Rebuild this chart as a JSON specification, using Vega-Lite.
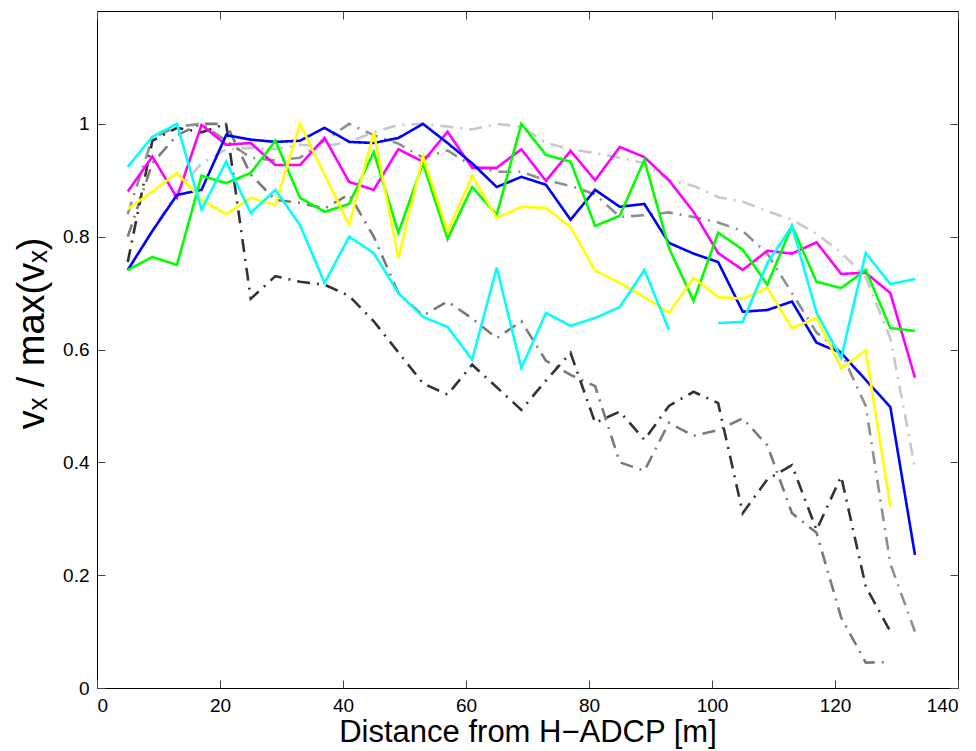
{
"$schema": "https://vega.github.io/schema/vega-lite/v6.json",
"width": 861, "height": 677,
"autosize": {"type": "none"},
"padding": {"left": 97, "top": 11, "right": 18, "bottom": 63},
"background": "white",
"config": {
  "view": {"stroke": "black", "strokeWidth": 1},
  "font": "Liberation Sans",
  "axis": {"grid": false, "domain": false, "tickColor": "#444", "tickWidth": 1, "labelColor": "black", "titleColor": "black", "labelFont": "Liberation Sans", "titleFont": "Liberation Sans, DejaVu Sans", "labelFontSize": 19, "titleFontWeight": "normal"}
},
"data": {"values": [
{"s":"light","x":5,"y":0.74},{"s":"light","x":9,"y":0.81},{"s":"light","x":13,"y":0.88},{"s":"light","x":17,"y":0.93},{"s":"light","x":21,"y":0.955},{"s":"light","x":25,"y":0.957},{"s":"light","x":29,"y":0.955},{"s":"light","x":33,"y":0.963},{"s":"light","x":37,"y":0.96},{"s":"light","x":41,"y":0.968},{"s":"light","x":45,"y":0.985},{"s":"light","x":49,"y":0.998},{"s":"light","x":53,"y":1.0},{"s":"light","x":57,"y":0.995},{"s":"light","x":61,"y":0.99},{"s":"light","x":65,"y":1.0},{"s":"light","x":69,"y":0.995},{"s":"light","x":73,"y":0.966},{"s":"light","x":77,"y":0.955},{"s":"light","x":81,"y":0.948},{"s":"light","x":85,"y":0.94},{"s":"light","x":89,"y":0.93},{"s":"light","x":93,"y":0.9},{"s":"light","x":97,"y":0.89},{"s":"light","x":101,"y":0.87},{"s":"light","x":105,"y":0.862},{"s":"light","x":109,"y":0.845},{"s":"light","x":113,"y":0.83},{"s":"light","x":117,"y":0.805},{"s":"light","x":121,"y":0.772},{"s":"light","x":125,"y":0.728},{"s":"light","x":129,"y":0.62},{"s":"light","x":133,"y":0.39},
{"s":"g2","x":5,"y":0.84},{"s":"g2","x":9,"y":0.975},{"s":"g2","x":13,"y":0.995},{"s":"g2","x":17,"y":1.0},{"s":"g2","x":21,"y":0.97},{"s":"g2","x":25,"y":0.94},{"s":"g2","x":29,"y":0.935},{"s":"g2","x":33,"y":0.94},{"s":"g2","x":37,"y":0.97},{"s":"g2","x":41,"y":1.0},{"s":"g2","x":45,"y":0.98},{"s":"g2","x":49,"y":0.965},{"s":"g2","x":53,"y":0.94},{"s":"g2","x":57,"y":0.953},{"s":"g2","x":61,"y":0.925},{"s":"g2","x":65,"y":0.915},{"s":"g2","x":69,"y":0.915},{"s":"g2","x":73,"y":0.9},{"s":"g2","x":77,"y":0.89},{"s":"g2","x":81,"y":0.875},{"s":"g2","x":85,"y":0.835},{"s":"g2","x":89,"y":0.838},{"s":"g2","x":93,"y":0.843},{"s":"g2","x":97,"y":0.835},{"s":"g2","x":101,"y":0.825},{"s":"g2","x":105,"y":0.81},{"s":"g2","x":109,"y":0.77},{"s":"g2","x":113,"y":0.7},{"s":"g2","x":117,"y":0.63},{"s":"g2","x":121,"y":0.595},{"s":"g2","x":125,"y":0.5},{"s":"g2","x":129,"y":0.22},{"s":"g2","x":133,"y":0.1},
{"s":"g3","x":5,"y":0.8},{"s":"g3","x":9,"y":0.93},{"s":"g3","x":13,"y":0.98},{"s":"g3","x":17,"y":1.0},{"s":"g3","x":21,"y":1.0},{"s":"g3","x":25,"y":0.91},{"s":"g3","x":29,"y":0.865},{"s":"g3","x":33,"y":0.86},{"s":"g3","x":37,"y":0.85},{"s":"g3","x":41,"y":0.875},{"s":"g3","x":45,"y":0.8},{"s":"g3","x":49,"y":0.7},{"s":"g3","x":53,"y":0.66},{"s":"g3","x":57,"y":0.685},{"s":"g3","x":61,"y":0.655},{"s":"g3","x":65,"y":0.62},{"s":"g3","x":69,"y":0.65},{"s":"g3","x":73,"y":0.58},{"s":"g3","x":77,"y":0.555},{"s":"g3","x":81,"y":0.535},{"s":"g3","x":85,"y":0.4},{"s":"g3","x":89,"y":0.385},{"s":"g3","x":93,"y":0.47},{"s":"g3","x":97,"y":0.447},{"s":"g3","x":101,"y":0.457},{"s":"g3","x":105,"y":0.478},{"s":"g3","x":109,"y":0.43},{"s":"g3","x":113,"y":0.31},{"s":"g3","x":117,"y":0.275},{"s":"g3","x":121,"y":0.125},{"s":"g3","x":125,"y":0.045},{"s":"g3","x":129,"y":0.046},
{"s":"dark","x":5,"y":0.755},{"s":"dark","x":9,"y":0.97},{"s":"dark","x":13,"y":0.993},{"s":"dark","x":17,"y":0.985},{"s":"dark","x":21,"y":1.0},{"s":"dark","x":25,"y":0.69},{"s":"dark","x":29,"y":0.73},{"s":"dark","x":33,"y":0.72},{"s":"dark","x":37,"y":0.715},{"s":"dark","x":41,"y":0.695},{"s":"dark","x":45,"y":0.65},{"s":"dark","x":49,"y":0.595},{"s":"dark","x":53,"y":0.54},{"s":"dark","x":57,"y":0.52},{"s":"dark","x":61,"y":0.573},{"s":"dark","x":65,"y":0.533},{"s":"dark","x":69,"y":0.493},{"s":"dark","x":73,"y":0.545},{"s":"dark","x":77,"y":0.594},{"s":"dark","x":81,"y":0.47},{"s":"dark","x":85,"y":0.49},{"s":"dark","x":89,"y":0.44},{"s":"dark","x":93,"y":0.5},{"s":"dark","x":97,"y":0.525},{"s":"dark","x":101,"y":0.505},{"s":"dark","x":105,"y":0.31},{"s":"dark","x":109,"y":0.37},{"s":"dark","x":113,"y":0.395},{"s":"dark","x":117,"y":0.28},{"s":"dark","x":121,"y":0.375},{"s":"dark","x":125,"y":0.18},{"s":"dark","x":129,"y":0.1},
{"s":"magenta","x":5,"y":0.88},{"s":"magenta","x":9,"y":0.942},{"s":"magenta","x":13,"y":0.869},{"s":"magenta","x":17,"y":0.998},{"s":"magenta","x":21,"y":0.963},{"s":"magenta","x":25,"y":0.966},{"s":"magenta","x":29,"y":0.927},{"s":"magenta","x":33,"y":0.927},{"s":"magenta","x":37,"y":0.975},{"s":"magenta","x":41,"y":0.897},{"s":"magenta","x":45,"y":0.883},{"s":"magenta","x":49,"y":0.955},{"s":"magenta","x":53,"y":0.933},{"s":"magenta","x":57,"y":0.986},{"s":"magenta","x":61,"y":0.922},{"s":"magenta","x":65,"y":0.922},{"s":"magenta","x":69,"y":0.955},{"s":"magenta","x":73,"y":0.899},{"s":"magenta","x":77,"y":0.952},{"s":"magenta","x":81,"y":0.9},{"s":"magenta","x":85,"y":0.959},{"s":"magenta","x":89,"y":0.941},{"s":"magenta","x":93,"y":0.9},{"s":"magenta","x":97,"y":0.844},{"s":"magenta","x":101,"y":0.771},{"s":"magenta","x":105,"y":0.741},{"s":"magenta","x":109,"y":0.775},{"s":"magenta","x":113,"y":0.77},{"s":"magenta","x":117,"y":0.79},{"s":"magenta","x":121,"y":0.734},{"s":"magenta","x":125,"y":0.736},{"s":"magenta","x":129,"y":0.7},{"s":"magenta","x":133,"y":0.55},
{"s":"blue","x":5,"y":0.741},{"s":"blue","x":9,"y":0.81},{"s":"blue","x":13,"y":0.874},{"s":"blue","x":17,"y":0.883},{"s":"blue","x":21,"y":0.98},{"s":"blue","x":25,"y":0.972},{"s":"blue","x":29,"y":0.968},{"s":"blue","x":33,"y":0.97},{"s":"blue","x":37,"y":0.993},{"s":"blue","x":41,"y":0.968},{"s":"blue","x":45,"y":0.966},{"s":"blue","x":49,"y":0.975},{"s":"blue","x":53,"y":1.0},{"s":"blue","x":57,"y":0.966},{"s":"blue","x":61,"y":0.93},{"s":"blue","x":65,"y":0.888},{"s":"blue","x":69,"y":0.906},{"s":"blue","x":73,"y":0.892},{"s":"blue","x":77,"y":0.83},{"s":"blue","x":81,"y":0.883},{"s":"blue","x":85,"y":0.853},{"s":"blue","x":89,"y":0.858},{"s":"blue","x":93,"y":0.789},{"s":"blue","x":97,"y":0.77},{"s":"blue","x":101,"y":0.755},{"s":"blue","x":105,"y":0.667},{"s":"blue","x":109,"y":0.67},{"s":"blue","x":113,"y":0.685},{"s":"blue","x":117,"y":0.612},{"s":"blue","x":121,"y":0.594},{"s":"blue","x":125,"y":0.546},{"s":"blue","x":129,"y":0.498},{"s":"blue","x":133,"y":0.236},
{"s":"green","x":5,"y":0.741},{"s":"green","x":9,"y":0.764},{"s":"green","x":13,"y":0.75},{"s":"green","x":17,"y":0.908},{"s":"green","x":21,"y":0.895},{"s":"green","x":25,"y":0.913},{"s":"green","x":29,"y":0.97},{"s":"green","x":33,"y":0.869},{"s":"green","x":37,"y":0.844},{"s":"green","x":41,"y":0.858},{"s":"green","x":45,"y":0.95},{"s":"green","x":49,"y":0.807},{"s":"green","x":53,"y":0.93},{"s":"green","x":57,"y":0.796},{"s":"green","x":61,"y":0.888},{"s":"green","x":65,"y":0.839},{"s":"green","x":69,"y":1.0},{"s":"green","x":73,"y":0.945},{"s":"green","x":77,"y":0.933},{"s":"green","x":81,"y":0.819},{"s":"green","x":85,"y":0.837},{"s":"green","x":89,"y":0.936},{"s":"green","x":93,"y":0.78},{"s":"green","x":97,"y":0.686},{"s":"green","x":101,"y":0.807},{"s":"green","x":105,"y":0.777},{"s":"green","x":109,"y":0.715},{"s":"green","x":113,"y":0.819},{"s":"green","x":117,"y":0.72},{"s":"green","x":121,"y":0.709},{"s":"green","x":125,"y":0.741},{"s":"green","x":129,"y":0.638},{"s":"green","x":133,"y":0.633},
{"s":"yellow","x":5,"y":0.849},{"s":"yellow","x":9,"y":0.88},{"s":"yellow","x":13,"y":0.913},{"s":"yellow","x":17,"y":0.865},{"s":"yellow","x":21,"y":0.84},{"s":"yellow","x":25,"y":0.869},{"s":"yellow","x":29,"y":0.856},{"s":"yellow","x":33,"y":1.0},{"s":"yellow","x":37,"y":0.91},{"s":"yellow","x":41,"y":0.821},{"s":"yellow","x":45,"y":0.984},{"s":"yellow","x":49,"y":0.762},{"s":"yellow","x":53,"y":0.942},{"s":"yellow","x":57,"y":0.809},{"s":"yellow","x":61,"y":0.908},{"s":"yellow","x":65,"y":0.833},{"s":"yellow","x":69,"y":0.853},{"s":"yellow","x":73,"y":0.851},{"s":"yellow","x":77,"y":0.817},{"s":"yellow","x":81,"y":0.74},{"s":"yellow","x":85,"y":0.718},{"s":"yellow","x":89,"y":0.693},{"s":"yellow","x":93,"y":0.665},{"s":"yellow","x":97,"y":0.727},{"s":"yellow","x":101,"y":0.693},{"s":"yellow","x":105,"y":0.69},{"s":"yellow","x":109,"y":0.709},{"s":"yellow","x":113,"y":0.638},{"s":"yellow","x":117,"y":0.656},{"s":"yellow","x":121,"y":0.567},{"s":"yellow","x":125,"y":0.598},{"s":"yellow","x":129,"y":0.321},
{"s":"cyan","x":5,"y":0.924},{"s":"cyan","x":9,"y":0.977},{"s":"cyan","x":13,"y":1.0},{"s":"cyan","x":17,"y":0.848},{"s":"cyan","x":21,"y":0.933},{"s":"cyan","x":25,"y":0.842},{"s":"cyan","x":29,"y":0.883},{"s":"cyan","x":33,"y":0.821},{"s":"cyan","x":37,"y":0.718},{"s":"cyan","x":41,"y":0.8},{"s":"cyan","x":45,"y":0.771},{"s":"cyan","x":49,"y":0.7},{"s":"cyan","x":53,"y":0.658},{"s":"cyan","x":57,"y":0.64},{"s":"cyan","x":61,"y":0.582},{"s":"cyan","x":65,"y":0.745},{"s":"cyan","x":69,"y":0.567},{"s":"cyan","x":73,"y":0.665},{"s":"cyan","x":77,"y":0.642},{"s":"cyan","x":81,"y":0.656},{"s":"cyan","x":85,"y":0.675},{"s":"cyan","x":89,"y":0.741},{"s":"cyan","x":93,"y":0.635},{"s":"cyan","x":97,"y":null},{"s":"cyan","x":101,"y":0.647},{"s":"cyan","x":105,"y":0.649},{"s":"cyan","x":109,"y":0.753},{"s":"cyan","x":113,"y":0.819},{"s":"cyan","x":117,"y":0.665},{"s":"cyan","x":121,"y":0.585},{"s":"cyan","x":125,"y":0.771},{"s":"cyan","x":129,"y":0.716},{"s":"cyan","x":133,"y":0.725}
]},
"layer": [
 {
  "mark": {"type": "line", "strokeWidth": 2.6, "invalid": "break-paths-filter-domains", "clip": true},
  "encoding": {
   "x": {"field": "x", "type": "quantitative", "scale": {"domain": [0, 140], "nice": false, "zero": false},
         "axis": {"orient": "bottom", "values": [0,20,40,60,80,100,120,140], "tickSize": -8, "labelPadding": 16, "title": "Distance from H−ADCP [m]", "titleFontSize": 31, "titleBaseline": "alphabetic", "titleY": 53}},
   "y": {"field": "y", "type": "quantitative", "scale": {"domain": [0, 1.2], "nice": false},
         "axis": {"orient": "left", "values": [0,0.2,0.4,0.6,0.8,1], "labelExpr": "datum.value", "tickSize": -8, "labelPadding": 16, "title": "vₓ / max(vₓ)", "titleFontSize": 38, "titleBaseline": "alphabetic", "titleX": -54, "titleY": 322}},
   "color": {"field": "s", "type": "nominal", "legend": null,
     "scale": {"domain": ["light","g2","g3","dark","magenta","blue","green","yellow","cyan"],
               "range": ["#c8c8c8","#8f8f8f","#7a7a7a","#333333","#ff00ff","#0000ff","#00ff00","#ffff00","#00ffff"]}},
   "strokeDash": {"field": "s", "type": "nominal", "legend": null,
     "scale": {"domain": ["light","g2","g3","dark","magenta","blue","green","yellow","cyan"],
               "range": [[13,7,2,7],[13,7,2,7],[13,7,2,7],[13,7,2,7],[1,0],[1,0],[1,0],[1,0],[1,0]]}}
  }
 },
 {
  "mark": {"type": "point", "opacity": 0},
  "encoding": {
   "x": {"field": "x", "type": "quantitative", "axis": {"orient": "top", "values": [0,20,40,60,80,100,120,140], "tickSize": -8, "labels": false, "title": null}},
   "y": {"field": "y", "type": "quantitative", "axis": {"orient": "right", "values": [0,0.2,0.4,0.6,0.8,1], "tickSize": -8, "labels": false, "title": null}}
  }
 }
],
"resolve": {"axis": {"x": "independent", "y": "independent"}}
}
